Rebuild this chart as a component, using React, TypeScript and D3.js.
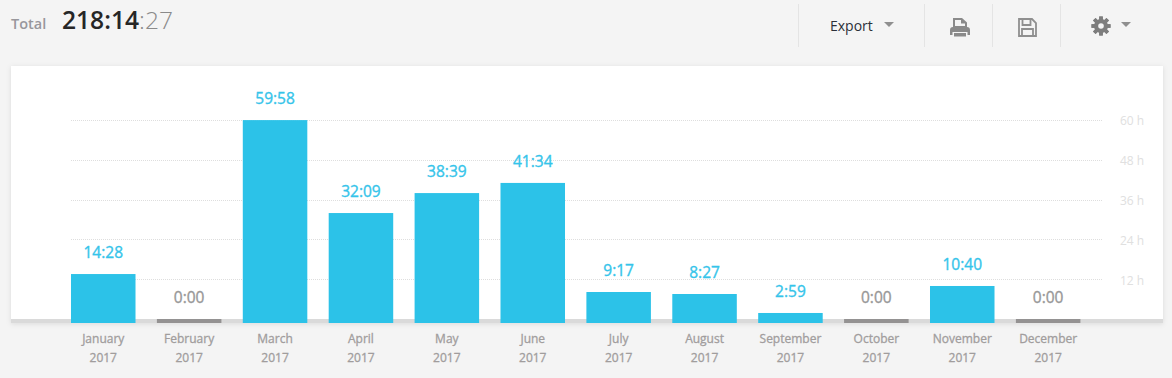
import React from "react";
import * as d3 from "d3";

const months = ["January","February","March","April","May","June","July","August","September","October","November","December"];
const years = ["2017","2017","2017","2017","2017","2017","2017","2017","2017","2017","2017","2017"];
const labels = ["14:28","0:00","59:58","32:09","38:39","41:34","9:17","8:27","2:59","0:00","10:40","0:00"];
const hours = [14.47,0,59.97,32.5,38.4,41.4,9.16,8.57,2.96,0,10.94,0];
const ticks = [12,24,36,48,60];

const W = 1172, H = 378;
const font = "'Open Sans', sans-serif";
const blue = "#2cc2e8";
const grey = "#949292";

export default function App() {
  const x = d3.scaleBand<string>().domain(months).range([60.3, 1091.1]).paddingInner(0.249).paddingOuter(0.1245);
  const yBar = d3.scaleLinear().domain([0, 60]).range([323, 120]);
  const yGrid = d3.scaleLinear().domain([0, 60]).range([319, 120]).interpolate(d3.interpolateRound);
  const yTick = d3.scaleLinear().domain([0, 60]).range([320, 120]);
  return (
    <div style={{ position: "fixed", left: 0, top: 0, width: W, height: H, background: "#f4f4f4" }}>
      <svg width={W} height={H} style={{ display: "block", fontFamily: font }}>
        <defs>
          <filter id="sh" x="-2%" y="-5%" width="104%" height="110%">
            <feDropShadow dx="0" dy="1" stdDeviation="2.5" floodColor="#000" floodOpacity="0.1" />
          </filter>
        </defs>
        {/* header */}
        <text x={11} y={29} fontSize={14.5} fontWeight={600} fill="#98979c">Total</text>
        <text x={62} y={29} fontSize={24.6} fontWeight={600} fill="#262626">218:14<tspan fontWeight={300} fill="#8a8a8a">:27</tspan></text>
        {[798, 924, 992, 1060].map(v => <line key={v} x1={v + 0.5} x2={v + 0.5} y1={4} y2={47} stroke="#e4e4e4" />)}
        <text x={830} y={31} fontSize={14} fill="#2b2f38">Export</text>
        <path d="M884 22h10l-5 5z" fill="#8f8f8f" />
        <path d="M1121 22h10l-5 5z" fill="#8f8f8f" />
        {/* printer */}
        <g fill="#8a8a8a">
          <path fillRule="evenodd" d="M953 28V18h9l5 4.5V28zM955 26h10v-2.5h-4v-3.5h-6z" />
          <path d="M950 30a3 3 0 0 1 3-3h14a3 3 0 0 1 3 3v5h-2.5v-3h-15v3H950z" />
          <rect x={954} y={33} width={12} height={3.5} />
        </g>
        {/* floppy */}
        <g fill="none" stroke="#8f8f8f" strokeWidth={1.8}>
          <path d="M1019 19h13l4 4v13h-17z" />
          <path d="M1022.5 19v6h8v-6" />
          <path d="M1022 36v-7h11v7" />
        </g>
        {/* gear */}
        <g transform="translate(1101 26)" fill="#7d7d7d">
          {d3.range(8).map(i => <rect key={i} x={-1.8} y={-9.5} width={3.6} height={19} transform={`rotate(${i * 45})`} />)}
          <circle r={7} />
          <circle r={2.8} fill="#f4f4f4" />
        </g>
        {/* card */}
        <rect x={11} y={66} width={1152} height={257} fill="#fff" filter="url(#sh)" />
        <rect x={11} y={319} width={1152} height={4} fill="#dadada" />
        {ticks.map(t => (
          <g key={t}>
            <line x1={71} x2={1102} y1={yGrid(t) + 0.5} y2={yGrid(t) + 0.5} stroke="#dedede" strokeDasharray="1 1" />
            <text x={1120} y={yTick(t) + 4.6} fontSize={12} fill="#e0e0e0">{t} h</text>
          </g>
        ))}
        {months.map((m, i) => {
          const v = hours[i];
          const bx = x(m)!;
          const cx = bx + x.bandwidth() / 2;
          const top = v > 0 ? yBar(v) : 319;
          const col = v > 0 ? "#35c4ea" : "#989898";
          return (
            <g key={m}>
              <rect x={bx} y={top} width={x.bandwidth()} height={323 - top} fill={v > 0 ? blue : grey} />
              <text x={cx} y={top - 16.4} textAnchor="middle" fontSize={15.5} fill={col} stroke={col} strokeWidth={0.35}>{labels[i]}</text>
              <text x={cx} y={343} textAnchor="middle" fontSize={12} fill="#a19d9d" stroke="#a19d9d" strokeWidth={0.3}>{m}</text>
              <text x={cx} y={362} textAnchor="middle" fontSize={12} fill="#a19d9d" stroke="#a19d9d" strokeWidth={0.3}>{years[i]}</text>
            </g>
          );
        })}
      </svg>
    </div>
  );
}
